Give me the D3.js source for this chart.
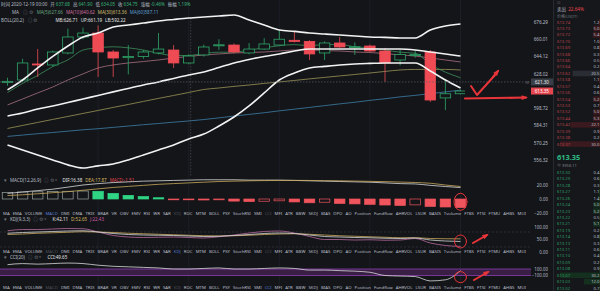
<!DOCTYPE html>
<html>
<head>
<meta charset="utf-8">
<script src="https://cdn.jsdelivr.net/npm/d3@7"></script>
<style>
  body { margin: 0; background: #131519; }
  svg { display: block; }
  text { font-family: "Noto Sans", "Noto Sans CJK SC", sans-serif; }
</style>
</head>
<body>
<svg id="chart" width="600" height="291"></svg>
<script>
// ---- data ----
const priceTicks = [676.29, 660.01, 644.12, 628.02, 598.72, 584.31, 570.25, 556.32];
const candleOpen  = [621.3, 623.0, 637.3, 636.4, 647.3, 662.1, 665.8, 648.2, 643.0, 644.0, 647.3, 650.0, 638.2, 645.5, 654.0, 654.6, 647.3, 650.9, 654.6, 659.0, 658.0, 647.3, 656.5, 652.5, 653.7, 649.1, 640.9, 645.0, 648.2, 607.4, 611.0];
const candleHigh  = [625.0, 642.0, 651.0, 649.5, 670.0, 671.0, 673.0, 650.0, 654.6, 650.0, 665.8, 654.6, 646.0, 655.0, 660.0, 656.0, 656.5, 661.0, 668.7, 666.7, 659.0, 658.0, 662.1, 657.0, 655.0, 652.0, 650.0, 650.0, 650.0, 623.0, 614.5];
const candleLow   = [618.0, 621.0, 625.7, 635.0, 646.0, 660.0, 625.7, 625.7, 628.0, 642.0, 646.0, 633.7, 637.0, 644.0, 650.0, 647.0, 646.0, 650.0, 654.0, 657.0, 640.9, 640.9, 652.0, 645.5, 648.0, 621.3, 636.0, 643.0, 604.0, 597.0, 610.5];
const candleClose = [621.8, 638.2, 636.4, 648.2, 662.1, 665.8, 648.2, 642.7, 644.0, 648.2, 650.9, 638.2, 644.5, 652.8, 654.8, 648.2, 650.9, 655.6, 660.0, 658.0, 646.4, 656.5, 652.8, 653.0, 649.1, 638.2, 646.0, 646.0, 605.6, 611.0, 613.35];

const bollUp  = [614.3, 623.0, 633.7, 644.1, 653.7, 662.1, 665.8, 671.5, 673.4, 675.3, 677.2, 678.7, 680.1, 681.1, 682.0, 683.0, 678.2, 673.4, 668.7, 667.4, 665.8, 664.9, 664.0, 663.0, 662.1, 661.7, 661.2, 661.2, 668.7, 672.5, 674.4];
const bollMid = [592.0, 594.5, 597.9, 600.5, 603.4, 606.5, 609.5, 612.6, 615.6, 618.6, 621.3, 624.4, 627.5, 630.1, 634.1, 638.2, 641.4, 644.1, 646.4, 649.1, 650.9, 650.9, 650.9, 650.9, 650.9, 650.9, 650.9, 650.0, 648.2, 646.4, 644.5];
const bollLow = [568.3, 564.2, 560.2, 556.3, 552.5, 550.0, 551.7, 553.2, 556.3, 560.2, 564.2, 568.3, 573.1, 577.1, 583.7, 591.2, 600.5, 611.7, 623.0, 629.2, 633.7, 635.1, 636.4, 637.3, 637.8, 638.2, 638.2, 638.2, 631.0, 623.0, 616.0];
const ma5  = [612, 620, 627, 635, 641, 650, 652, 653, 652, 650, 647, 645, 645, 647, 648, 648, 650, 652, 654, 655, 654, 655, 655, 653, 652, 650, 648, 647, 637, 630, 625];
const ma10 = [601.4, 606.5, 611.7, 616.9, 623.0, 628.4, 633.7, 636.4, 638.2, 639.5, 640.9, 642.7, 644.1, 645.5, 646.4, 647.3, 647.7, 648.2, 649.1, 650.0, 650.0, 649.5, 649.1, 648.2, 647.7, 646.8, 645.5, 644.5, 642.7, 640.9, 639.1];
const ma30 = [581.7, 584.2, 586.7, 589.2, 591.7, 594.2, 596.7, 599.3, 601.8, 604.4, 607.0, 609.5, 612.1, 614.7, 616.0, 617.4, 618.6, 620.0, 621.3, 622.6, 624.0, 625.3, 626.6, 627.9, 629.2, 630.6, 631.9, 632.4, 632.4, 632.4, 631.9];
const ma60 = [575.2, 576.3, 577.4, 578.4, 579.5, 580.6, 581.5, 582.6, 583.7, 584.8, 585.8, 586.9, 587.9, 589.1, 590.5, 592.0, 593.4, 594.8, 596.4, 597.8, 599.3, 600.8, 602.3, 603.7, 605.3, 606.7, 608.3, 609.6, 611.1, 612.6, 614.1];
const lastPrice = 613.35;
const crossPrice = 621.3;
const crossIndex = 12;

const macdTicks = [20, 0, -20];
const macdHist = [9.5, 10, 10.3, 10.6, 11, 11.4, 11, 8, 5.2, 3.4, 1.8, -0.4, -0.8, -1.4, -1.0, -3.0, -3.6, -3.2, -2.6, -4.2, -5.4, -4.6, -6.4, -7.0, -7.6, -8.6, -9.2, -8.4, -10.6, -11.4, -12.2];
const macdDif = [8, 10, 12, 14, 17, 20, 22, 23.5, 24.5, 25.5, 26, 26.5, 27, 27.5, 27.5, 27.5, 27, 27, 27, 26.5, 26, 25.5, 25, 24.5, 24, 23, 22, 21.5, 19.5, 17.8, 16.38];
const macdDea = [5, 6, 7.5, 9, 10.5, 12.5, 14.5, 16.5, 18, 19.5, 21, 22, 23, 24, 25, 25.5, 26, 26.3, 26.5, 26.6, 26.5, 26.2, 26, 25.6, 25.2, 24.8, 24.2, 23.6, 22.5, 20, 17.87];

const kdjTicks = [100, 50, 0];
const kdjLevels = [80, 20];
const kdjK = [75, 78, 80, 82, 84, 85, 80, 74, 70, 68, 67, 66, 64, 62, 63, 66, 70, 74, 76, 74, 68, 62, 60, 58, 57, 55, 54, 56, 48, 44, 42.11];
const kdjD = [70, 72, 75, 77, 79, 81, 80, 78, 75, 73, 71, 69, 67, 65, 64, 65, 67, 70, 72, 73, 71, 68, 65, 63, 61, 59, 57, 57, 54, 53, 52.65];
const kdjJ = [85, 90, 90, 92, 94, 93, 80, 66, 60, 58, 59, 60, 58, 56, 61, 68, 76, 82, 84, 76, 62, 50, 50, 48, 49, 47, 48, 54, 36, 26, 22.43];

const cciTicks = [100, -100];
const cciValues = [233, 267, 250, 267, 283, 267, 217, 183, 167, 150, 133, 100, 100, 117, 133, 100, 100, 117, 133, 117, 67, 67, 50, 33, 0, -100, -117, -133, -267, -233, 49.65];

const indicatorTabs = ["MA", "EMA", "VOLUME", "MACD", "DMI", "DMA", "TRIX", "BRAR", "VR", "OBV", "EMV", "RSI", "WR", "SAR", "KDJ", "ROC", "MTM", "BOLL", "PSY", "StochRSI", "SMI", "CCI", "MFI", "ATR", "BBW", "SKDJ", "BIAS", "DPO", "AO", "Position", "Fundflow", "AHRVOL", "LSUR", "BASIS", "Tvolume", "FTBS", "FTSI", "FTMU", "AHBS", "MUI"];

const askPrices = [613.74, 613.73, 613.72, 613.70, 613.69, 613.68, 613.66, 613.64, 613.62, 613.58, 613.57, 613.56, 613.54, 613.53, 613.52, 613.44, 613.42, 613.39, 613.38, 613.37];
const askSizes  = [1.2, 5.0, 5.4, 1.0, 0.8, 0.3, 0.5, 0.2, 20.5, 1.1, 0.4, 0.6, 5.2, 0.7, 5.0, 5.3, 22.1, 0.9, 0.2, 30.0];
const bidPrices = [613.30, 613.29, 613.28, 613.27, 613.26, 613.24, 613.23, 613.22, 613.21, 613.19, 613.14, 613.13, 613.11, 613.10, 613.09, 613.08, 613.07, 613.03, 613.02];
const bidSizes  = [0.4, 0.6, 0.3, 1.1, 1.4, 5.0, 5.2, 0.5, 5.1, 0.2, 0.8, 0.3, 0.6, 0.4, 0.2, 0.9, 30.2, 12.0, 0.7];

// ---- drawing ----
const svg = d3.select('#chart');
const n = candleClose.length;
const idx = d3.range(n);
const red = '#ef4b55';
const green = '#2fa86a';
const textGrey = '#b9bdc6';

const x = d3.scaleLinear().domain([0, n - 1]).range([7.5, 460.5]);
const candleW = 10.5;

const yMain = d3.scaleLog().domain([556.32, 676.29]).range([160, 22]);
const yMacd = d3.scaleLinear().domain([-20, 20]).range([213, 185]);
const yKdj = d3.scaleLinear().domain([0, 100]).range([252, 227]);
const yCci = d3.scaleLinear().domain([-100, 100]).range([275.5, 269]);

// order book background + divider
svg.append('rect').attr('x', 553).attr('y', 0).attr('width', 47).attr('height', 291).attr('fill', '#15171b');
svg.append('line').attr('x1', 553.5).attr('x2', 553.5).attr('y1', 0).attr('y2', 291).attr('stroke', '#262a31');

// faint vertical grid
svg.append('g').selectAll('line')
  .data([6, 12, 18, 24, 30])
  .enter().append('line')
  .attr('x1', (d) => x(d)).attr('x2', (d) => x(d))
  .attr('y1', 0).attr('y2', 291)
  .attr('stroke', '#1c1f25');

svg.append('clipPath').attr('id', 'mainClip')
  .append('rect').attr('x', 0).attr('y', 0).attr('width', 465).attr('height', 176);

const main = svg.append('g').attr('clip-path', 'url(#mainClip)');

// crosshair
main.append('line')
  .attr('x1', x(crossIndex) + 2).attr('x2', x(crossIndex) + 2)
  .attr('y1', 18).attr('y2', 176)
  .attr('stroke', '#4a4e56').attr('stroke-dasharray', '1.5,1.5').attr('stroke-width', 0.7);
svg.append('line')
  .attr('x1', 0).attr('x2', 531)
  .attr('y1', yMain(crossPrice)).attr('y2', yMain(crossPrice))
  .attr('stroke', '#5a5e66').attr('stroke-dasharray', '1.5,1.5').attr('stroke-width', 0.7);

function priceLine(values, color, w) {
  main.append('path')
    .datum(values)
    .attr('fill', 'none')
    .attr('stroke', color)
    .attr('stroke-width', w)
    .attr('d', d3.line().x((d, i) => x(i)).y((d) => yMain(d)).curve(d3.curveMonotoneX));
}

priceLine(ma60, '#3f7ea6', 0.8);
priceLine(ma30, '#9c9457', 0.8);
priceLine(ma10, '#a8707f', 0.8);
priceLine(ma5, '#3f8f5c', 0.8);

// candles
const candles = main.append('g').selectAll('g')
  .data(idx)
  .enter().append('g');

candles.append('line')
  .attr('x1', (i) => x(i)).attr('x2', (i) => x(i))
  .attr('y1', (i) => yMain(candleHigh[i]))
  .attr('y2', (i) => yMain(candleLow[i]))
  .attr('stroke', (i) => candleClose[i] >= candleOpen[i] ? green : red)
  .attr('stroke-width', 0.8);

candles.append('rect')
  .attr('x', (i) => x(i) - candleW / 2)
  .attr('width', candleW)
  .attr('y', (i) => yMain(Math.max(candleOpen[i], candleClose[i])))
  .attr('height', (i) => Math.max(1, Math.abs(yMain(candleOpen[i]) - yMain(candleClose[i]))))
  .attr('fill', (i) => candleClose[i] >= candleOpen[i] ? '#131519' : red)
  .attr('stroke', (i) => candleClose[i] >= candleOpen[i] ? green : red)
  .attr('stroke-width', 0.8);

priceLine(bollUp, '#f2f2f2', 1.6);
priceLine(bollMid, '#f2f2f2', 1.6);
priceLine(bollLow, '#f2f2f2', 1.6);

// price axis
const priceAxis = svg.append('g')
  .attr('transform', 'translate(550,0)')
  .call(d3.axisLeft(yMain).tickValues(priceTicks).tickFormat(d3.format('.2f')).tickSize(0).tickPadding(2));
priceAxis.select('.domain').remove();
priceAxis.selectAll('text').attr('fill', textGrey).attr('font-size', 4.6);

// cross / last price labels
svg.append('rect').attr('x', 531).attr('y', yMain(crossPrice) - 3.5).attr('width', 22).attr('height', 7).attr('fill', '#3a3e46');
svg.append('text').attr('x', 549).attr('y', yMain(crossPrice) + 1.7).attr('text-anchor', 'end')
  .attr('font-size', 4.6).attr('fill', '#e6e6e6').text(d3.format('.2f')(crossPrice));
svg.append('text').attr('x', 525).attr('y', yMain(crossPrice) + 1.7).attr('font-size', 4.6).attr('fill', '#8d929b').text('≡');
svg.append('rect').attr('x', 531).attr('y', yMain(lastPrice) - 3.5).attr('width', 22).attr('height', 7).attr('fill', '#e5464f');
svg.append('text').attr('x', 549).attr('y', yMain(lastPrice) + 1.7).attr('text-anchor', 'end')
  .attr('font-size', 4.6).attr('fill', '#ffffff').text(d3.format('.2f')(lastPrice));

// headers of the main chart
function label(px, py, parts, size) {
  const t = svg.append('text').attr('x', px).attr('y', py).attr('font-size', size || 4.5);
  parts.forEach((p, i) => {
    t.append('tspan').attr('dx', i === 0 ? 0 : (p.gap === undefined ? 3 : p.gap)).attr('fill', p.c).text(p.t);
  });
  return t;
}

label(1, 6, [
  { t: '时间 2020-12-19 00:00', c: textGrey },
  { t: '开', c: textGrey }, { t: '637.68', c: '#3cb57a', gap: 1 },
  { t: '高', c: textGrey }, { t: '641.90', c: '#3cb57a', gap: 1 },
  { t: '低', c: textGrey }, { t: '634.05', c: '#3cb57a', gap: 1 },
  { t: '收', c: textGrey }, { t: '634.75', c: '#3cb57a', gap: 1 },
  { t: '涨幅', c: textGrey }, { t: '-0.46%', c: '#3cb57a', gap: 1 },
  { t: '振幅', c: textGrey }, { t: '1.19%', c: '#3cb57a', gap: 1 }
]);
label(12, 14, [
  { t: 'MA', c: textGrey },
  { t: '◎ ⚙', c: '#60646c', gap: 4 },
  { t: 'MA(5)627.66', c: '#6aa47e', gap: 4 },
  { t: 'MA(10)640.62', c: '#d36fa0' },
  { t: 'MA(30)613.36', c: '#d8c070' },
  { t: 'MA(60)587.11', c: '#5f9fd0' }
]);
label(1, 22, [
  { t: 'BOLL(20,2)', c: textGrey },
  { t: '◎ ⚙', c: '#60646c', gap: 4 },
  { t: 'MB:626.71', c: '#e6e6e6', gap: 18 },
  { t: 'UP:661.19', c: '#e6e6e6' },
  { t: 'LB:592.22', c: '#e6e6e6' }
]);

// ---- MACD panel ----
label(4, 181.5, [
  { t: '▾', c: '#7a7e86' },
  { t: 'MACD(12,26,9)', c: textGrey, gap: 3 },
  { t: '◎ ⚙ ×', c: '#60646c', gap: 3 },
  { t: 'DIF:16.38', c: '#e6e6e6', gap: 5 },
  { t: 'DEA:17.87', c: '#d8b860' },
  { t: 'MACD:-1.51', c: '#e5464f' }
]);

svg.append('g').selectAll('rect')
  .data(idx)
  .enter().append('rect')
  .attr('x', (i) => x(i) - candleW / 2)
  .attr('width', candleW)
  .attr('y', (i) => yMacd(Math.max(0, macdHist[i])))
  .attr('height', (i) => Math.max(0.8, Math.abs(yMacd(macdHist[i]) - yMacd(0))))
  .attr('fill', (i) => {
    const rising = i > 0 && macdHist[i] >= macdHist[i - 1];
    if (i === 0 || rising) return 'none';
    return macdHist[i] >= 0 ? '#2fd585' : '#f0545c';
  })
  .attr('stroke', (i) => macdHist[i] >= 0 ? (i === 0 || macdHist[i] >= macdHist[i - 1] ? '#9aa39d' : '#2fd585') : '#f0545c')
  .attr('stroke-width', 0.7);

function subLine(values, scale, color) {
  svg.append('path')
    .datum(values)
    .attr('fill', 'none')
    .attr('stroke', color)
    .attr('stroke-width', 0.8)
    .attr('d', d3.line().x((d, i) => x(i)).y((d) => scale(d)).curve(d3.curveMonotoneX));
}
subLine(macdDif, yMacd, '#d9d9d9');
subLine(macdDea, yMacd, '#c9a95a');

function subAxis(scale, ticks) {
  const g = svg.append('g')
    .attr('transform', 'translate(550,0)')
    .call(d3.axisLeft(scale).tickValues(ticks).tickFormat(d3.format('.2f')).tickSize(0).tickPadding(2));
  g.select('.domain').remove();
  g.selectAll('text').attr('fill', textGrey).attr('font-size', 4.4);
}
subAxis(yMacd, macdTicks);

// ---- indicator tab rows ----
function tabRow(py, own, dimmed) {
  const g = svg.append('g');
  const items = g.selectAll('text')
    .data(indicatorTabs)
    .enter().append('text')
    .attr('y', py)
    .attr('font-size', 4.3)
    .attr('fill', (d) => d === own ? '#5b7fd8' : (dimmed.includes(d) ? '#4b4f57' : textGrey))
    .text((d) => d);
  const widths = items.nodes().map((node) => node.getComputedTextLength());
  const gap = (526 - 3 - d3.sum(widths)) / (indicatorTabs.length - 1);
  let cx = 3;
  items.attr('x', (d, i) => {
    const left = cx;
    cx += widths[i] + gap;
    return left;
  });
}
tabRow(215, 'MACD', ['KDJ', 'CCI']);
tabRow(253, 'KDJ', ['MACD', 'CCI']);
tabRow(289, 'CCI', ['MACD', 'KDJ']);

// ---- KDJ panel ----
label(4, 221, [
  { t: '▾', c: '#7a7e86' },
  { t: 'KDJ(9,3,3)', c: textGrey, gap: 3 },
  { t: '◎ ⚙ ×', c: '#60646c', gap: 3 },
  { t: 'K:42.11', c: '#e6e6e6', gap: 6 },
  { t: 'D:52.65', c: '#d8b860' },
  { t: 'J:22.43', c: '#d05aa8' }
]);
svg.append('g').selectAll('line')
  .data(kdjLevels)
  .enter().append('line')
  .attr('x1', 0).attr('x2', 531)
  .attr('y1', (d) => yKdj(d)).attr('y2', (d) => yKdj(d))
  .attr('stroke', '#3a3e46').attr('stroke-dasharray', '2,2').attr('stroke-width', 0.6);
subLine(kdjD, yKdj, '#c9a95a');
subLine(kdjJ, yKdj, '#b86a9e');
subLine(kdjK, yKdj, '#d9d9d9');
subAxis(yKdj, kdjTicks);

// ---- CCI panel ----
label(4, 259, [
  { t: '▾', c: '#7a7e86' },
  { t: 'CCI(20)', c: textGrey, gap: 3 },
  { t: '◎ ⚙ ×', c: '#60646c', gap: 3 },
  { t: 'CCI:49.65', c: '#e6e6e6', gap: 6 }
]);
svg.append('rect')
  .attr('x', 0).attr('width', 531)
  .attr('y', yCci(100)).attr('height', yCci(-100) - yCci(100))
  .attr('fill', '#3a1f45');
svg.append('g').selectAll('line')
  .data(cciTicks)
  .enter().append('line')
  .attr('x1', 0).attr('x2', 531)
  .attr('y1', (d) => yCci(d)).attr('y2', (d) => yCci(d))
  .attr('stroke', '#8e3fb0').attr('stroke-width', 0.8);
subLine(cciValues, yCci, '#d9d9d9');
subAxis(yCci, cciTicks);

// ---- red hand-drawn annotations ----
const ann = svg.append('g').attr('fill', 'none').attr('stroke', '#e8353a').attr('stroke-linecap', 'round').attr('stroke-linejoin', 'round');
const last = n - 1;
ann.append('ellipse').attr('cx', x(last)).attr('cy', yMacd(-4)).attr('rx', 6.5).attr('ry', 8.5).attr('stroke-width', 1);
ann.append('ellipse').attr('cx', x(last)).attr('cy', yKdj(kdjK[last])).attr('rx', 6).attr('ry', 6.5).attr('stroke-width', 1);
ann.append('ellipse').attr('cx', x(last)).attr('cy', yCci(-150)).attr('rx', 6).attr('ry', 5.5).attr('stroke-width', 1);

function arrow(x1, y1, x2, y2, w) {
  const a = Math.atan2(y2 - y1, x2 - x1);
  const h = 5;
  ann.append('line').attr('x1', x1).attr('y1', y1).attr('x2', x2).attr('y2', y2).attr('stroke-width', w);
  svg.append('path')
    .attr('d', `M${x2 + Math.cos(a) * 2},${y2 + Math.sin(a) * 2}` +
      `L${x2 - Math.cos(a - 0.5) * h},${y2 - Math.sin(a - 0.5) * h}` +
      `L${x2 - Math.cos(a + 0.5) * h},${y2 - Math.sin(a + 0.5) * h}Z`)
    .attr('fill', '#e8353a');
}
ann.append('path').attr('d', 'M471,86 L477,95 L495,75').attr('stroke-width', 2);
arrow(493, 77, 498, 71, 2);
arrow(465, 98.5, 526, 97.5, 2.2);
arrow(473, 243, 487, 235, 2);
arrow(474, 280, 488, 272, 2);

// ---- order book ----
const book = svg.append('g').attr('font-size', 4.2);
label(557, 4, [{ t: '⊡', c: '#60646c' }], 4.4);
label(557, 11, [
  { t: '卖出', c: textGrey },
  { t: '22.64%', c: '#e5464f', gap: 2 }
], 4.6);
label(557, 17.5, [{ t: '价格(USDT)', c: '#70747c' }], 4);

const yAsk = d3.scalePoint().domain(d3.range(askPrices.length)).range([23.5, 145.5]);
const yBid = d3.scalePoint().domain(d3.range(bidPrices.length)).range([174, 289.5]);
const depth = d3.scaleLinear().domain([0, 30]).range([0, 40]);

book.selectAll('.askBar').data(askSizes).enter().append('rect')
  .attr('x', (d) => 600 - depth(d)).attr('width', (d) => depth(d))
  .attr('y', (d, i) => yAsk(i) - 4.2).attr('height', 5.6)
  .attr('fill', (d, i) => d > 20 && i < 10 ? '#2a2d33' : '#3a1a1e');
book.selectAll('.bidBar').data(bidSizes).enter().append('rect')
  .attr('x', (d) => 600 - depth(d)).attr('width', (d) => depth(d))
  .attr('y', (d, i) => yBid(i) - 4.2).attr('height', 5.6)
  .attr('fill', '#15301f');

book.selectAll('.askPrice').data(askPrices).enter().append('text')
  .attr('x', 557).attr('y', (d, i) => yAsk(i))
  .attr('fill', '#b8434a').text((d) => d.toFixed(2));
book.selectAll('.askSize').data(askSizes).enter().append('text')
  .attr('x', 599.5).attr('y', (d, i) => yAsk(i)).attr('text-anchor', 'end')
  .attr('fill', textGrey).text((d) => d.toFixed(1));
book.selectAll('.bidPrice').data(bidPrices).enter().append('text')
  .attr('x', 557).attr('y', (d, i) => yBid(i))
  .attr('fill', '#2f9d62').text((d) => d.toFixed(2));
book.selectAll('.bidSize').data(bidSizes).enter().append('text')
  .attr('x', 599.5).attr('y', (d, i) => yBid(i)).attr('text-anchor', 'end')
  .attr('fill', textGrey).text((d) => d.toFixed(1));

svg.append('text').attr('x', 557).attr('y', 160).attr('font-size', 7.4).attr('font-weight', 'bold')
  .attr('fill', '#2ebd85').text(d3.format('.2f')(lastPrice));
svg.append('text').attr('x', 557).attr('y', 166.5).attr('font-size', 4).attr('fill', '#80848c').text('≈ 3956.11');
</script>
</body>
</html>
